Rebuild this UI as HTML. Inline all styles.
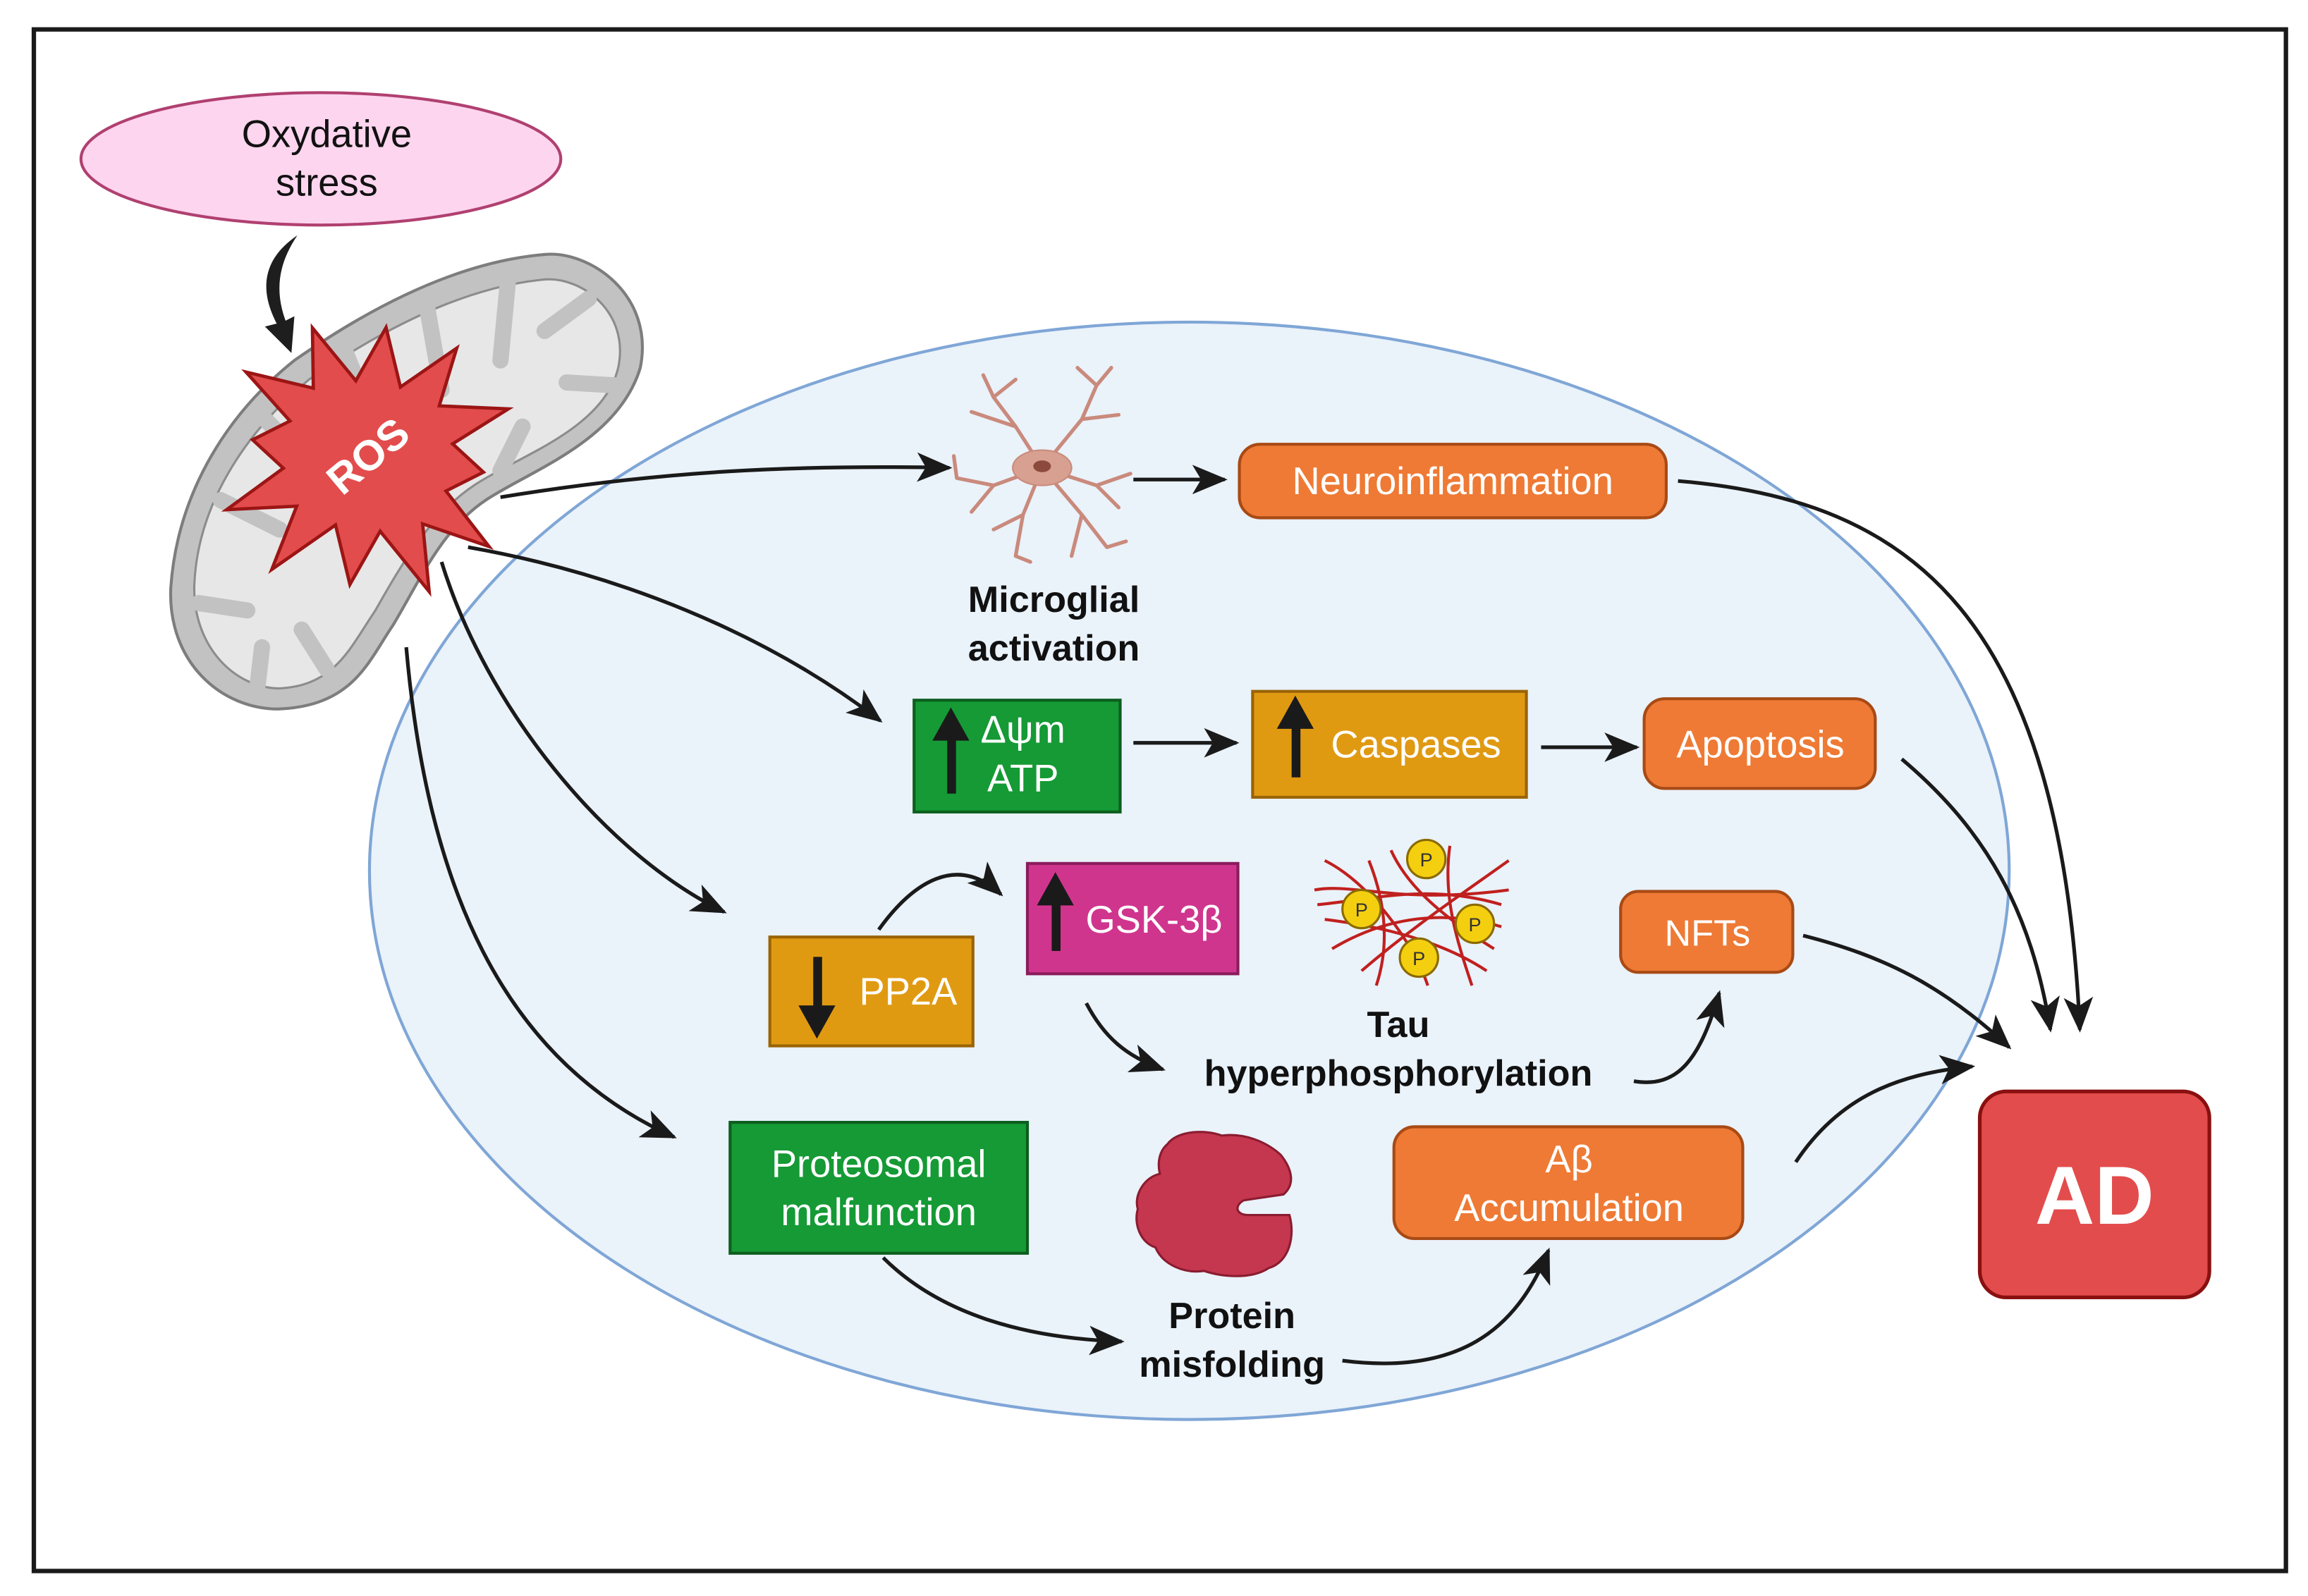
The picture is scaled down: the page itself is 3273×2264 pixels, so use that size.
<!DOCTYPE html>
<html><head><meta charset="utf-8"><style>
html,body{margin:0;padding:0;background:#fff}
svg{display:block}
text{font-family:"Liberation Sans",sans-serif}
</style></head><body>
<svg width="3273" height="2264" viewBox="0 0 1568 1085" preserveAspectRatio="none" xmlns="http://www.w3.org/2000/svg">
<defs>
<marker id="a" viewBox="0 0 12 10" refX="11" refY="5" markerWidth="24" markerHeight="20" markerUnits="userSpaceOnUse" orient="auto"><path d="M0,0 L12,5 L0,10 L3,5 Z" fill="#1a1a1a"/></marker>
</defs>
<rect x="0" y="0" width="1568" height="1085" fill="#fff"/>
<rect x="23" y="20" width="1530" height="1048" fill="#fff" stroke="#1a1a1a" stroke-width="3"/>

<ellipse cx="808" cy="592" rx="557" ry="373" fill="#eaf2fa" stroke="#7fa6d6" stroke-width="2"/>

<ellipse cx="218" cy="108" rx="163" ry="45" fill="#fdd5ee" stroke="#b04070" stroke-width="2"/>
<text x="222" y="100" font-size="26" text-anchor="middle" fill="#111">Oxydative</text>
<text x="222" y="133" font-size="26" text-anchor="middle" fill="#111">stress</text>
<path d="M202,160 C180,175 175,195 188,220 L180,222 L198,240 L200,215 L194,218 C186,196 190,178 202,160 Z" fill="#1e1e1e"/>

<path d="M189,482 C240,480 250,450 267,425 C285,395 300,360 330,340 C360,320 420,300 435,250 C445,200 400,170 370,173 C310,178 250,210 200,245 C150,285 120,340 116,400 C114,450 150,482 189,482 Z" fill="#c2c2c2" stroke="#7d7d7d" stroke-width="2"/>
<path d="M190,468 C228,466 238,440 255,415 C272,385 292,350 322,330 C352,310 410,292 420,250 C428,212 395,188 370,190 C315,195 258,225 210,258 C165,295 134,345 132,398 C131,440 160,468 190,468 Z" fill="#e7e7e7" stroke="#8c8c8c" stroke-width="1.5"/>
<g stroke="#c2c2c2" stroke-width="11" stroke-linecap="round" fill="none">
<line x1="135" y1="410" x2="168" y2="415"/>
<line x1="175" y1="466" x2="178" y2="440"/>
<line x1="222" y1="455" x2="205" y2="428"/>
<line x1="150" y1="340" x2="190" y2="360"/>
<line x1="180" y1="285" x2="215" y2="320"/>
<line x1="235" y1="240" x2="255" y2="290"/>
<line x1="290" y1="208" x2="300" y2="265"/>
<line x1="345" y1="192" x2="340" y2="245"/>
<line x1="400" y1="203" x2="370" y2="225"/>
<line x1="418" y1="262" x2="385" y2="260"/>
<line x1="340" y1="320" x2="355" y2="290"/>
<line x1="305" y1="345" x2="290" y2="320"/>
</g>
<g transform="translate(250,310) scale(0.9)">
<polygon points="0,-98 17,-55 55,-90 48,-45 100,-50 62,-18 88,0 62,18 100,55 48,45 60,95 17,55 0,98 -17,55 -60,95 -48,45 -100,55 -62,18 -88,0 -62,-18 -100,-50 -48,-45 -55,-90 -17,-55" fill="#e34c4c" stroke="#9c1515" stroke-width="2.5" transform="rotate(8)"/>
<text x="0" y="11" font-size="32" font-weight="bold" fill="#fff" text-anchor="middle" transform="rotate(-40)">ROS</text>
</g>

<g fill="none" stroke="#1a1a1a" stroke-width="2.5" marker-end="url(#a)">
<path d="M340,338 C450,320 540,316 645,318"/>
<path d="M318,372 C420,390 520,430 598,490"/>
<path d="M300,382 C330,480 410,580 492,620"/>
<path d="M276,440 C290,600 340,720 458,773"/>
<path d="M770,326 L832,326"/>
<path d="M770,505 L840,505"/>
<path d="M1047,508 L1112,508"/>
<path d="M597,632 C620,600 650,580 680,608"/>
<path d="M738,682 C750,705 765,718 790,727"/>
<path d="M1110,735 C1140,740 1155,720 1168,675"/>
<path d="M600,855 C640,895 700,910 762,912"/>
<path d="M912,925 C990,935 1030,905 1052,850"/>
<path d="M1220,790 C1250,745 1290,730 1340,725"/>
<path d="M1225,636 C1280,650 1320,670 1365,712"/>
<path d="M1292,516 C1350,565 1380,620 1393,700"/>
<path d="M1140,327 C1300,340 1400,420 1413,700"/>
</g>

<g stroke="#c98a7c" stroke-width="2.5" fill="none" stroke-linecap="round">
<path d="M708,318 L690,290 L675,270 M690,290 L660,280 M675,270 L668,255 M675,270 L690,258"/>
<path d="M708,318 L735,285 L745,262 M735,285 L760,282 M745,262 L755,250 M745,262 L732,250"/>
<path d="M708,318 L745,330 L768,322 M745,330 L760,345"/>
<path d="M708,318 L735,350 L752,372 M735,350 L728,378 M752,372 L765,368"/>
<path d="M708,318 L695,350 L690,378 M695,350 L675,360 M690,378 L700,382"/>
<path d="M708,318 L675,330 L650,325 M675,330 L660,348 M650,325 L648,310"/>
</g>
<ellipse cx="708" cy="318" rx="20" ry="12" fill="#d8a090" stroke="#c98a7c"/>
<ellipse cx="708" cy="317" rx="6" ry="4" fill="#8c4a3c"/>
<text x="716" y="416" font-size="25" font-weight="bold" text-anchor="middle" fill="#111">Microglial</text>
<text x="716" y="449" font-size="25" font-weight="bold" text-anchor="middle" fill="#111">activation</text>

<rect x="842" y="302" width="290" height="50" rx="14" fill="#ee7a35" stroke="#a84a15" stroke-width="2"/>
<text x="987" y="336" font-size="26" fill="#fff" text-anchor="middle">Neuroinflammation</text>

<rect x="621" y="476" width="140" height="76" fill="#159a35" stroke="#0c5e1e" stroke-width="2"/>
<path d="M645,538 L645,502 L636,502 L646,484 L656,502 L648,502 L648,538 Z" fill="#1a1a1a" stroke="#1a1a1a" stroke-width="3"/>
<text x="695" y="505" font-size="26" fill="#fff" text-anchor="middle">Δψm</text>
<text x="695" y="538" font-size="26" fill="#fff" text-anchor="middle">ATP</text>

<rect x="851" y="470" width="186" height="72" fill="#e09a12" stroke="#9a6404" stroke-width="2"/>
<path d="M879,527 L879,494 L870,494 L880,476 L890,494 L882,494 L882,527 Z" fill="#1a1a1a" stroke="#1a1a1a" stroke-width="3"/>
<text x="962" y="515" font-size="26" fill="#fff" text-anchor="middle">Caspases</text>

<rect x="1117" y="475" width="157" height="61" rx="14" fill="#ee7a35" stroke="#a84a15" stroke-width="2"/>
<text x="1196" y="515" font-size="26" fill="#fff" text-anchor="middle">Apoptosis</text>

<rect x="523" y="637" width="138" height="74" fill="#e09a12" stroke="#9a6404" stroke-width="2"/>
<path d="M554,652 L554,685 L545,685 L555,703 L565,685 L557,685 L557,652 Z" fill="#1a1a1a" stroke="#1a1a1a" stroke-width="3"/>
<text x="617" y="683" font-size="26" fill="#fff" text-anchor="middle">PP2A</text>

<rect x="698" y="587" width="143" height="75" fill="#d0358e" stroke="#8a1c5c" stroke-width="2"/>
<path d="M716,645 L716,614 L707,614 L717,596 L727,614 L719,614 L719,645 Z" fill="#1a1a1a" stroke="#1a1a1a" stroke-width="3"/>
<text x="784" y="634" font-size="26" fill="#fff" text-anchor="middle">GSK-3β</text>

<g stroke="#c0201e" stroke-width="2" fill="none">
<path d="M893,605 C920,600 950,615 1025,605"/>
<path d="M900,625 C940,630 980,640 1010,660"/>
<path d="M905,645 C930,630 970,615 1020,630"/>
<path d="M930,585 C940,610 945,640 935,670"/>
<path d="M985,575 C980,610 990,640 1000,670"/>
<path d="M900,585 C930,600 960,640 970,670"/>
<path d="M1025,585 C990,610 960,630 925,660"/>
<path d="M895,615 C930,612 970,600 1020,615"/>
<path d="M945,578 C955,600 975,620 1015,645"/>
</g>
<g fill="#f4cf10" stroke="#8a6a00" stroke-width="1.5">
<circle cx="969" cy="584" r="13"/><circle cx="925" cy="618" r="13"/><circle cx="1002" cy="628" r="13"/><circle cx="964" cy="651" r="13"/>
</g>
<g font-size="13" text-anchor="middle" fill="#333">
<text x="969" y="589">P</text><text x="925" y="623">P</text><text x="1002" y="633">P</text><text x="964" y="656">P</text>
</g>
<text x="950" y="705" font-size="25" font-weight="bold" text-anchor="middle" fill="#111">Tau</text>
<text x="950" y="738" font-size="25" font-weight="bold" text-anchor="middle" fill="#111">hyperphosphorylation</text>

<rect x="1101" y="606" width="117" height="55" rx="12" fill="#ee7a35" stroke="#a84a15" stroke-width="2"/>
<text x="1160" y="643" font-size="25" fill="#fff" text-anchor="middle">NFTs</text>

<rect x="496" y="763" width="202" height="89" fill="#159a35" stroke="#0c5e1e" stroke-width="2"/>
<text x="597" y="800" font-size="26" fill="#fff" text-anchor="middle">Proteosomal</text>
<text x="597" y="833" font-size="26" fill="#fff" text-anchor="middle">malfunction</text>

<path d="M793,778 C800,768 820,768 830,772 C845,770 860,776 870,785 C878,795 880,805 872,812 L845,816 C838,820 840,826 848,826 L876,826 C880,840 876,858 862,862 C850,870 830,868 818,864 C805,866 790,860 785,848 C775,845 770,832 773,822 C770,812 778,800 788,798 C786,790 788,782 793,778 Z" fill="#c5364f" stroke="#8a1c30" stroke-width="1.5"/>
<text x="837" y="903" font-size="25" font-weight="bold" text-anchor="middle" fill="#111">Protein</text>
<text x="837" y="936" font-size="25" font-weight="bold" text-anchor="middle" fill="#111">misfolding</text>

<rect x="947" y="766" width="237" height="76" rx="14" fill="#ee7a35" stroke="#a84a15" stroke-width="2"/>
<text x="1066" y="797" font-size="26" fill="#fff" text-anchor="middle">Aβ</text>
<text x="1066" y="830" font-size="26" fill="#fff" text-anchor="middle">Accumulation</text>

<rect x="1345" y="742" width="156" height="140" rx="18" fill="#e34c4c" stroke="#8a1010" stroke-width="2.5"/>
<text x="1423" y="832" font-size="56" font-weight="bold" fill="#fff" text-anchor="middle">AD</text>
</svg>
</body></html>
